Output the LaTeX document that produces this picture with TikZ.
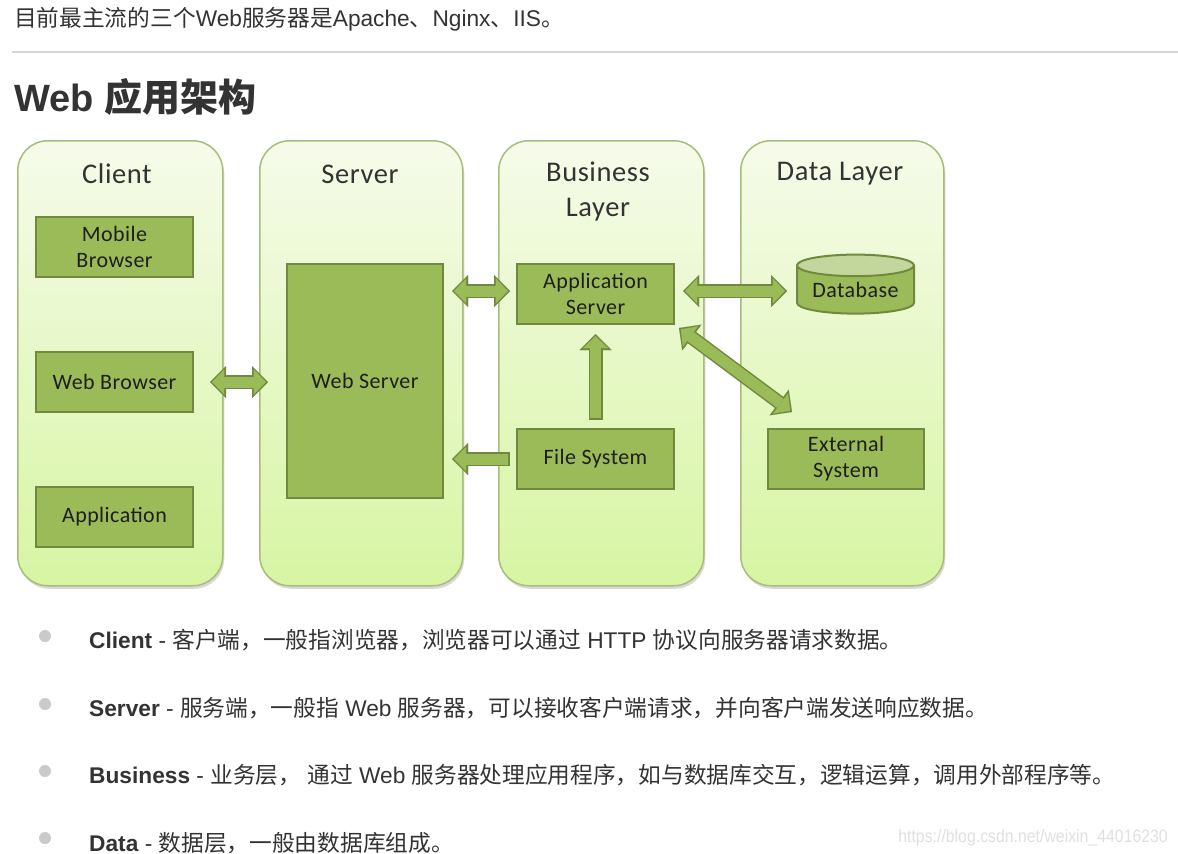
\documentclass[tikz,border=0pt]{standalone}
\usepackage{fontspec}
\setmainfont{Liberation Sans}
\newfontfamily\cjk{Noto Sans CJK SC}
\newfontfamily\calfont[LetterSpace=2.0]{Carlito}
\usetikzlibrary{arrows.meta,shapes.geometric,shadows,calc}
\definecolor{boxfill}{HTML}{9BBB59}
\definecolor{boxline}{HTML}{71893F}
\definecolor{colline}{HTML}{A7BE7A}
\definecolor{coltop}{HTML}{F6FBEA}
\definecolor{colbot}{HTML}{D7F5A3}
\definecolor{dbtop}{HTML}{C3D69B}
\definecolor{dtxt}{HTML}{1E1E1E}
\definecolor{ptxt}{HTML}{333333}
\definecolor{rulec}{HTML}{D6D6D6}
\definecolor{bulc}{HTML}{CACACA}
\definecolor{wmc}{HTML}{E0E0E0}
\newcommand\barrow[5]{%
  \draw[bout,#1,shorten <=#4pt,shorten >=#5pt] #2 -- #3;
  \draw[bin,#1,shorten <=#4pt+2.2pt,shorten >=#5pt+2.2pt] #2 -- #3;}
\begin{document}
\begin{tikzpicture}[x=1pt,y=-1pt,
  col/.style={draw=colline, line width=1.5pt, rounded corners=30pt, top color=coltop, bottom color=colbot,
    anchor=north west, minimum height=445pt, inner sep=0pt,
    drop shadow={shadow xshift=1.5pt, shadow yshift=-3pt, opacity=0.25, fill=black!60}},
  ttl/.style={font=\calfont\fontsize{28.5}{35}\selectfont, text=ptxt, align=center},
  bx/.style={draw=boxline, line width=2pt, fill=boxfill, anchor=north west, inner sep=0pt,
    minimum width=157pt, minimum height=60pt, font=\calfont\fontsize{22}{26}\selectfont, text=dtxt, align=center},
  bout/.style={line width=14pt, draw=boxline, >={Triangle[length=16pt,width=32pt,line width=0.01pt]}},
  bin/.style={line width=11pt, draw=boxfill, >={Triangle[length=12pt,width=25pt,line width=0.01pt]}},
  ptext/.style={anchor=base west, text=ptxt, font=\fontsize{22.7}{26}\selectfont, inner sep=0pt},
  bul/.style={circle, fill=bulc, minimum size=12pt, inner sep=0pt}
]
\useasboundingbox (0,0) rectangle (1178,854);
\fill[white] (0,0) rectangle (1178,854);

% page header
\node[ptext] (top) at (14,26.5) {{\cjk 目前最主流的三个}Web{\cjk 服务器是}Apache{\cjk 、}Nginx{\cjk 、}IIS{\cjk 。}};
\draw[rulec, line width=2pt] (12,52) -- (1178,52);
\node[anchor=base west, text=ptxt, inner sep=0pt, font=\bfseries\fontsize{38}{40}\selectfont] (head) at (14,111)
  {Web {\cjk\bfseries 应用架构}};

% columns
\node[col, minimum width=205pt] (c1) at (17,140) {};
\node[col, minimum width=203pt] (c2) at (259,140) {};
\node[col, minimum width=205pt] (c3) at (498,140) {};
\node[col, minimum width=203pt] (c4) at (740,140) {};

\node[ttl] (tclient) at (117,174) {Client};
\node[ttl] (tserver) at (360,174) {Server};
\node[ttl] (tbusiness) at (598,191) {Business\\Layer};
\node[ttl] (tdata) at (840,174) {Data Layer};

% boxes
\node[bx] (mb) at (35,216) {Mobile\\Browser};
\node[bx] (wb) at (35,351) {Web Browser};
\node[bx] (ap) at (35,486) {Application};
\node[bx, minimum width=156pt, minimum height=234pt] (ws) at (286,263) {Web Server};
\node[bx] (as) at (516,263) {Application\\Server};
\node[bx] (fs) at (516,428) {File System};
\node[bx, minimum width=156pt] (es) at (767,428) {External\\System};
\node[cylinder, shape border rotate=90, aspect=0.25, draw=boxline, line width=2pt,
  cylinder uses custom fill, cylinder body fill=boxfill, cylinder end fill=dbtop,
  minimum width=117pt, minimum height=59pt, inner sep=0pt,
  font=\calfont\fontsize{22}{26}\selectfont, text=dtxt] (db) at (855.5,290) {Database};

% arrows
\barrow{<->}{(wb.east)}{(ws.west |- wb.east)}{16}{18}
\barrow{<->}{([yshift=3pt]ws.east |- as.west)}{([yshift=3pt]as.west)}{8}{6}
\barrow{->}{(fs.west)}{(ws.east |- fs.west)}{6}{8}
\barrow{->}{(fs.north)}{(as.south)}{8}{9}
\barrow{<->}{([yshift=3pt]as.east)}{([yshift=3pt]db.west |- as.east)}{8}{9}
\barrow{<->}{(as.south east)}{([xshift=25pt,yshift=16pt]es.north west)}{5}{0}

% bullets
\node[bul] (b1) at (45,636) {};
\node[bul] (b2) at (45,704) {};
\node[bul] (b3) at (45,771) {};
\node[bul] (b4) at (45,838) {};
\node[ptext] (l1) at (89,648.5) {\textbf{Client} - {\cjk 客户端，一般指浏览器，浏览器可以通过} HTTP {\cjk 协议向服务器请求数据。}};
\node[ptext] (l2) at (89,716.5) {\textbf{Server} - {\cjk 服务端，一般指} Web {\cjk 服务器，可以接收客户端请求，并向客户端发送响应数据。}};
\node[ptext] (l3) at (89,783.5) {\textbf{Business} - {\cjk 业务层，} {\cjk 通过} Web {\cjk 服务器处理应用程序，如与数据库交互，逻辑运算，调用外部程序等。}};
\node[ptext] (l4) at (89,851) {\textbf{Data} - {\cjk 数据层，一般由数据库组成。}};
\node[anchor=base east, text=wmc, inner sep=0pt, font=\fontsize{18}{20}\selectfont, xscale=0.88, transform shape] (wm) at (1168,842) {https://blog.csdn.net/weixin\_44016230};
\end{tikzpicture}
\end{document}
